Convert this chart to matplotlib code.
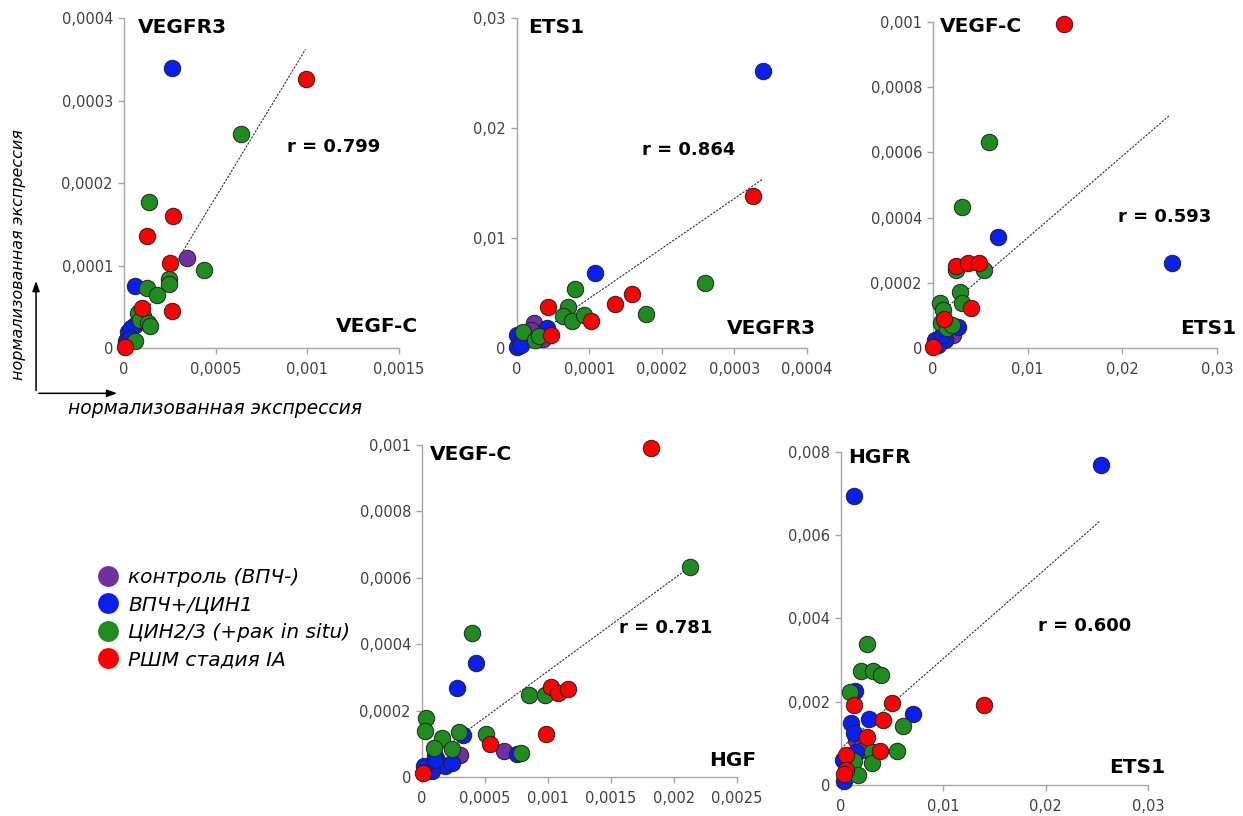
import matplotlib
matplotlib.use('Agg')
import matplotlib.pyplot as plt
import numpy as np
from matplotlib.lines import Line2D
from matplotlib.patches import FancyArrowPatch
from matplotlib.ticker import FuncFormatter

# groups
group_names = ['контроль (ВПЧ-)', 'ВПЧ+/ЦИН1', 'ЦИН2/3 (+рак in situ)', 'РШМ стадия IA']
group_colors = ['#7030a0', '#0a1ef0', '#1e8c1e', '#ff0000']

#-------------- VEGF-C (x) / VEGFR3 (y)
p1_purple = [(0.000345, 0.000109), (0.00001, 0.000005), (0.00002, 0.000012)]
p1_blue = [(0.000264, 0.000339), (0.0000618, 0.0000752), (0.00006, 0.0000279), (0.0000236, 0.0000198),
           (0.00004, 0.000024), (0.000012, 0.000008), (0.00003, 0.000012)]
p1_green = [(0.000636, 0.000259), (0.000138, 0.000177), (0.000436, 0.0000945), (0.000247, 0.0000836),
            (0.000244, 0.0000776), (0.000127, 0.0000731), (0.000178, 0.0000642), (0.000078, 0.0000428),
            (0.000105, 0.0000388), (0.000087, 0.0000339), (0.000133, 0.0000299), (0.000142, 0.000027),
            (0.00006, 0.0000085)]
p1_red = [(0.000993, 0.000326), (0.000265, 0.00016), (0.000124, 0.000136), (0.000251, 0.000103),
          (0.00026, 0.0000452), (0.0000964, 0.0000485), (0.0000055, 0.0000016)]
p1_trend = [(0, 0), (0.00099, 0.000362)]

#-------------- VEGFR3 (x) / ETS1 (y)
p2_purple = [(0.0000239, 0.00224), (0.0000294, 0.00118), (0.0000363, 0.00148), (0.0000363, 0.0008),
             (0.00002, 0.0016)]
p2_blue = [(0.000339, 0.0252), (0.0001076, 0.00685), (0.000041, 0.00179), (0.0, 0.00118), (0.0, 0.00006),
           (0.000004, 0.00057), (0.00001, 0.0009), (0.000005, 0.0003)]
p2_green = [(0.000259, 0.00594), (0.000178, 0.00309), (0.00008, 0.00533), (0.0000708, 0.00376),
            (0.0000639, 0.00291), (0.0000754, 0.00245), (0.0000929, 0.003), (0.0000078, 0.00148),
            (0.0000248, 0.00073), (0.00003, 0.0011)]
p2_red = [(0.000326, 0.0138), (0.000159, 0.00488), (0.000135, 0.00397), (0.0000432, 0.0037),
          (0.000102, 0.00245), (0.0000465, 0.00118)]
p2_trend = [(0, 0), (0.000339, 0.01536)]

#-------------- ETS1 (x) / VEGF-C (y)
p3_purple = [(0.00214, 0.00004), (0.0008, 0.00003)]
p3_blue = [(0.0252, 0.000262), (0.0069, 0.00034), (0.00267, 0.0000634), (0.00127, 0.0000245),
           (0.0002, 0.0000245), (0.00056, 0.0000092), (0.001, 0.00004)]
p3_green = [(0.00595, 0.000631), (0.00303, 0.000432), (0.00542, 0.000239), (0.0024, 0.00024),
            (0.00285, 0.000173), (0.00303, 0.000137), (0.00074, 0.000137), (0.00102, 0.000117),
            (0.00081, 0.0000757), (0.00144, 0.0000603), (0.00197, 0.0000706)]
p3_red = [(0.01387, 0.000993), (0.0024, 0.000252), (0.00367, 0.00026), (0.0049, 0.000262),
          (0.00398, 0.000122), (0.00116, 0.00009), (0.00004, 0.000002)]
p3_trend = [(0.0, 0.000088), (0.02504, 0.000715)]

#-------------- HGF (x) / VEGF-C (y)
p4_purple = [(0.00065, 0.000078), (0.0003, 0.000066), (0.00012, 0.00005)]
p4_blue = [(0.000429, 0.000344), (0.000275, 0.000267), (0.000328, 0.000126), (0.000751, 0.000068),
           (0.000103, 0.000063), (0.000183, 0.000033), (0.000235, 0.000043), (0.0000817, 0.000018),
           (0.000018, 0.000033), (0.0001, 0.00005)]
p4_green = [(0.002127, 0.000633), (0.000394, 0.000435), (0.000849, 0.000247), (0.000976, 0.000247),
            (0.000029, 0.000177), (0.000024, 0.000139), (0.000156, 0.000118), (0.000294, 0.000136),
            (0.000505, 0.000129), (0.000783, 0.000073), (0.0000976, 0.000088), (0.000235, 0.000083)]
p4_red = [(0.001815, 0.00099), (0.00102, 0.00027), (0.00108, 0.000252), (0.001156, 0.000264),
          (0.000984, 0.000129), (0.00054, 0.0001), (0.000005, 0.000011)]
p4_trend = [(0.0, 0.00004), (0.002127, 0.000633)]

#-------------- ETS1 (x) / HGFR (y)
p5_purple = [(0.00147, 0.00108), (0.00202, 0.00096), (0.00218, 0.00084)]
p5_blue = [(0.02538, 0.00767), (0.00127, 0.00693), (0.007, 0.0017), (0.00137, 0.00225),
           (0.00277, 0.00158), (0.00098, 0.00148), (0.0013, 0.00124), (0.00147, 0.00079),
           (0.00017, 0.0006), (0.00029, 0.00009)]
p5_green = [(0.00257, 0.00339), (0.00192, 0.00274), (0.00316, 0.00273), (0.00388, 0.00263),
            (0.00088, 0.00224), (0.00603, 0.00142), (0.003, 0.00078), (0.00544, 0.00082),
            (0.00127, 0.00057), (0.003, 0.00053), (0.00163, 0.00023)]
p5_red = [(0.01397, 0.00192), (0.0013, 0.00193), (0.00495, 0.00196), (0.00407, 0.00156),
          (0.00257, 0.00116), (0.00381, 0.00082), (0.00046, 0.00072), (0.00049, 0.00037),
          (0.00029, 0.00026)]
p5_trend = [(0.0, 0.00088), (0.02531, 0.006336)]

fig = plt.figure(figsize=(12.43, 8.16), dpi=100)

fmt = FuncFormatter(lambda v, _: ('%g' % v).replace('.', ','))


def panel(rect, groups, trend, xmax, xstep, ymax, ystep, ytitle, xtitle, rtext, rpos, ypos, xpos):
    ax = fig.add_axes(rect)
    for pts, c in zip(groups, group_colors):
        xy = np.array(pts)
        ax.scatter(xy[:, 0], xy[:, 1], s=140, color=c, edgecolors='#222222', linewidths=0.7,
                   clip_on=False, zorder=3)
    t = np.array(trend)
    ax.plot(t[:, 0], t[:, 1], color='#333333', lw=0.8, ls=(0, (2, 1.2)), zorder=2)
    ax.set_xlim(0, xmax)
    ax.set_ylim(0, ymax)
    ax.set_xticks(np.arange(0, xmax + xstep / 2, xstep))
    ax.set_yticks(np.arange(0, ymax + ystep / 2, ystep))
    ax.xaxis.set_major_formatter(fmt)
    ax.yaxis.set_major_formatter(fmt)
    for s in ['top', 'right']:
        ax.spines[s].set_visible(False)
    for s in ['left', 'bottom']:
        ax.spines[s].set_color('#a6a6a6')
        ax.spines[s].set_linewidth(1)
    ax.tick_params(axis='both', colors='#a6a6a6', labelcolor='#404040', labelsize=10.5,
                   length=4, width=1, direction='out')
    ax.tick_params(axis='x', pad=6)
    ax.tick_params(axis='y', pad=4)
    ax.text(ypos[0], ypos[1], ytitle, transform=ax.transAxes, fontsize=14.5, fontweight='bold',
            ha='left', va='center')
    ax.text(xpos[0], xpos[1], xtitle, transform=ax.transAxes, fontsize=14.5, fontweight='bold',
            ha='right', va='center')
    ax.text(rpos[0], rpos[1], rtext, transform=ax.transAxes, fontsize=13, fontweight='bold',
            ha='left', va='center')
    return ax


panel([0.0998, 0.5735, 0.2212, 0.4044], [p1_purple, p1_blue, p1_green, p1_red], p1_trend,
      0.0015, 0.0005, 0.0004, 0.0001, 'VEGFR3', 'VEGF-C', 'r = 0.799', (0.593, 0.609),
      (0.05, 0.97), (1.07, 0.064))
panel([0.4159, 0.5735, 0.2333, 0.4044], [p2_purple, p2_blue, p2_green, p2_red], p2_trend,
      0.0004, 0.0001, 0.03, 0.01, 'ETS1', 'VEGFR3', 'r = 0.864', (0.431, 0.6),
      (0.038, 0.97), (1.031, 0.06))
panel([0.7506, 0.5735, 0.2285, 0.3995], [p3_purple, p3_blue, p3_green, p3_red], p3_trend,
      0.03, 0.01, 0.001, 0.0002, 'VEGF-C', 'ETS1', 'r = 0.593', (0.651, 0.402),
      (0.025, 0.985), (1.067, 0.061))
panel([0.3395, 0.0478, 0.2534, 0.4069], [p4_purple, p4_blue, p4_green, p4_red], p4_trend,
      0.0025, 0.0005, 0.001, 0.0002, 'VEGF-C', 'HGF', 'r = 0.781', (0.625, 0.449),
      (0.025, 0.97), (1.06, 0.051))
panel([0.6766, 0.0380, 0.2470, 0.4085], [p5_purple, p5_blue, p5_green, p5_red], p5_trend,
      0.03, 0.01, 0.008, 0.002, 'HGFR', 'ETS1', 'r = 0.600', (0.642, 0.478),
      (0.023, 0.982), (1.055, 0.051))

# axis labels with arrows (top-left corner)
fig.add_artist(FancyArrowPatch((0.029, 0.518), (0.029, 0.659), transform=fig.transFigure,
                               arrowstyle='-|>,head_length=0.5,head_width=0.18', mutation_scale=12,
                               color='black', lw=1.1))
fig.add_artist(FancyArrowPatch((0.029, 0.518), (0.0965, 0.518), transform=fig.transFigure,
                               arrowstyle='-|>,head_length=0.5,head_width=0.18', mutation_scale=12,
                               color='black', lw=1.1))
fig.text(0.0145, 0.6875, 'нормализованная экспрессия', rotation=90, fontsize=11.5, style='italic',
         ha='center', va='center')
fig.text(0.1726, 0.5, 'нормализованная экспрессия', fontsize=13.5, style='italic',
         ha='center', va='center')

handles = [Line2D([], [], marker='o', ls='', markersize=15, markerfacecolor=c, markeredgecolor='none')
           for c in group_colors]
fig.legend(handles, group_names, loc='upper left', bbox_to_anchor=(0.079, 1 - 568 / 816),
           frameon=False, prop={'size': 14.5, 'style': 'italic'}, handlelength=1.0,
           handletextpad=0.5, labelspacing=0.42, borderpad=0, borderaxespad=0)

fig.savefig('out.png', dpi=100, facecolor='white')
